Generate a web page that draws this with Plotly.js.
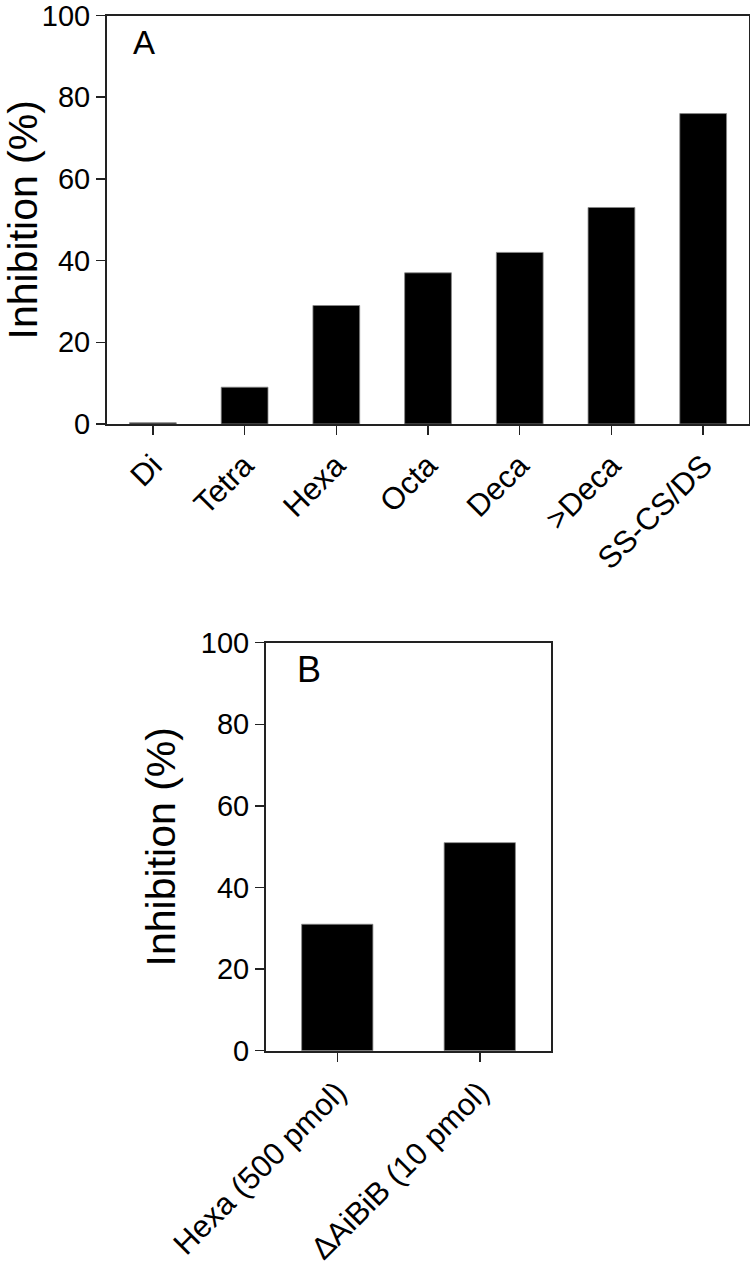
<!DOCTYPE html>
<html>
<head>
<meta charset="utf-8">
<script src="https://cdn.plot.ly/plotly-3.0.1.min.js"></script>
<style>
  body { margin: 0; background: #fff; }
  #chart { width: 750px; height: 1275px; }
</style>
</head>
<body>
<div id="chart"></div>
<script>
// Panel A: oligosaccharide size series
const categoriesA = ['Di', 'Tetra', 'Hexa', 'Octa', 'Deca', '>Deca', 'SS-CS/DS'];
const inhibitionA = [0.3, 9, 29, 37, 42, 53, 76];

// Panel B
const categoriesB = ['Hexa (500 pmol)', '\u0394AiBiB (10 pmol)'];
const inhibitionB = [31, 51];

const yTicks = [0, 20, 40, 60, 80, 100];

const FONT = 'Arial, "Liberation Sans", sans-serif';
const lineColor = '#222';

// Shared axis styling
function xAxisStyle(domain, anchor, n) {
    return {
        domain: domain,
        anchor: anchor,
        range: [-0.5, n - 0.5],
        showline: true,
        linecolor: lineColor,
        linewidth: 2,
        mirror: true,
        ticks: 'outside',
        ticklen: 9,
        tickwidth: 1.5,
        tickcolor: lineColor,
        tickangle: -45,
        tickfont: {family: FONT, size: 31, color: '#000'},
        ticklabeloverflow: 'allow',
        showgrid: false,
        zeroline: false,
        fixedrange: true
    };
}

function yAxisStyle(domain, anchor, standoff) {
    return {
        domain: domain,
        anchor: anchor,
        range: [0, 100],
        tickvals: yTicks,
        showline: true,
        linecolor: lineColor,
        linewidth: 2,
        mirror: true,
        ticks: 'outside',
        ticklen: 9,
        tickwidth: 1.5,
        tickcolor: lineColor,
        tickfont: {family: FONT, size: 29, color: '#000'},
        ticklabeloverflow: 'allow',
        showgrid: false,
        zeroline: false,
        fixedrange: true,
        title: {
            text: 'Inhibition (%)',
            font: {family: FONT, size: 41, color: '#000'},
            standoff: standoff
        }
    };
}

const barStyle = {
    color: '#000',
    line: {color: '#888', width: 0.8}
};

const data = [
    {
        type: 'bar',
        x: categoriesA,
        y: inhibitionA,
        width: 0.51,
        marker: barStyle,
        xaxis: 'x',
        yaxis: 'y',
        hoverinfo: 'x+y'
    },
    {
        type: 'bar',
        x: categoriesB,
        y: inhibitionB,
        width: 0.5,
        marker: barStyle,
        xaxis: 'x2',
        yaxis: 'y2',
        hoverinfo: 'x+y'
    }
];

const layout = {
    width: 750,
    height: 1275,
    margin: {l: 0, r: 0, t: 0, b: 0},
    paper_bgcolor: '#fff',
    plot_bgcolor: '#fff',
    showlegend: false,
    font: {family: FONT, color: '#000'},
    xaxis: xAxisStyle([0.1427, 0.9987], 'y', categoriesA.length),
    yaxis: yAxisStyle([0.6675, 0.9878], 'x', 17),
    xaxis2: xAxisStyle([0.3547, 0.7347], 'y2', categoriesB.length),
    yaxis2: yAxisStyle([0.1759, 0.4959], 'x2', 12),
    annotations: [
        {
            text: 'A', xref: 'x domain', yref: 'y domain',
            x: 0.058, y: 0.935, xanchor: 'center', yanchor: 'middle',
            showarrow: false, font: {family: FONT, size: 33, color: '#000'}
        },
        {
            text: 'B', xref: 'x2 domain', yref: 'y2 domain',
            x: 0.152, y: 0.935, xanchor: 'center', yanchor: 'middle',
            showarrow: false, font: {family: FONT, size: 36, color: '#000'}
        }
    ]
};

Plotly.newPlot('chart', data, layout, {displayModeBar: false, staticPlot: true});
</script>
</body>
</html>
